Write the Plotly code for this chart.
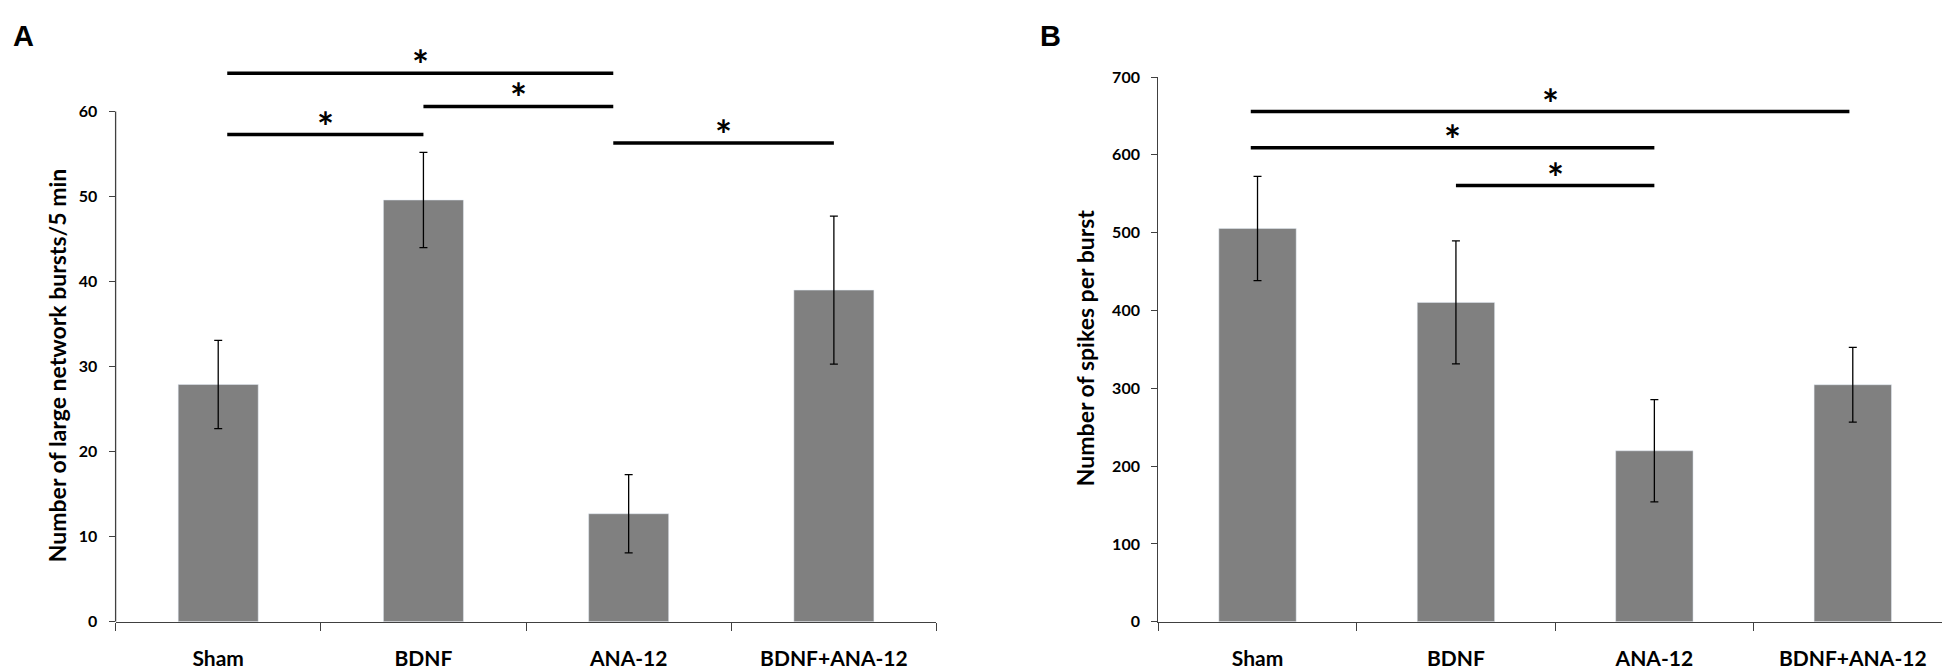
import plotly.graph_objects as go

# 데이터
groups = ["Sham", "BDNF", "ANA-12", "BDNF+ANA-12"]

bursts_mean = [27.9, 49.6, 12.7, 39.0]
bursts_err = [5.2, 5.6, 4.6, 8.7]

spikes_mean = [505.5, 410.4, 219.7, 304.6]
spikes_err = [67.0, 79.0, 65.7, 48.0]

# 유의성 표시: (시작 그룹, 끝 그룹, 높이)
bursts_sig = [(0, 1, 57.3), (0, 2, 64.5), (1, 2, 60.6), (2, 3, 56.3)]
spikes_sig = [(0, 3, 655.7), (0, 2, 609.2), (1, 2, 560.6)]

A_TITLE = "Number of large network bursts/5 min"
B_TITLE = "Number of spikes per burst"

BAR_COLOR = "#808080"
AXIS_COLOR = "#404040"
FONT = "Lato"

fig = go.Figure()

fig.add_trace(go.Bar(
    x=groups, y=bursts_mean, width=0.39, marker_color=BAR_COLOR,
    error_y=dict(type="data", array=bursts_err, color="black", thickness=1.3, width=4),
    xaxis="x", yaxis="y", showlegend=False,
))
fig.add_trace(go.Bar(
    x=groups, y=spikes_mean, width=0.39, marker_color=BAR_COLOR,
    error_y=dict(type="data", array=spikes_err, color="black", thickness=1.3, width=4),
    xaxis="x2", yaxis="y2", showlegend=False,
))

tick_font = dict(family=FONT, size=16, color="black", weight="bold")
cat_font = dict(family=FONT, size=21, color="black", weight="bold")

xcommon = dict(
    type="category", range=[-0.5, 3.5], showline=True, linecolor=AXIS_COLOR, linewidth=1.3,
    tickson="boundaries", ticks="outside", ticklen=8, tickcolor=AXIS_COLOR, tickwidth=1.3,
    tickfont=cat_font, ticklabelstandoff=18, showgrid=False, zeroline=False, fixedrange=True,
)

fig.update_layout(
    width=1950, height=671,
    margin=dict(l=0, r=0, t=0, b=0),
    paper_bgcolor="white", plot_bgcolor="white",
    xaxis=dict(xcommon, domain=[0.05518, 0.47615], anchor="y"),
    yaxis=dict(
        domain=[0.07407, 0.9608], range=[0, 68], anchor="x",
        tickvals=[0, 10, 20, 30, 40, 50, 60], ticks="outside", ticklen=6,
        tickcolor=AXIS_COLOR, tickwidth=1.3, tickfont=tick_font, ticklabelstandoff=8,
        showline=False, showgrid=False, zeroline=False,
    ),
    xaxis2=dict(xcommon, domain=[0.5899, 0.99692], anchor="y2"),
    yaxis2=dict(
        domain=[0.07407, 0.90939], range=[0, 700], anchor="x2",
        tickvals=[0, 100, 200, 300, 400, 500, 600, 700], ticks="outside", ticklen=6,
        tickcolor=AXIS_COLOR, tickwidth=1.3, tickfont=tick_font, ticklabelstandoff=8,
        showline=True, linecolor=AXIS_COLOR, linewidth=1.3, showgrid=False, zeroline=False,
    ),
)

# A 패널 y축 선 (0~60 까지만)
fig.add_shape(type="line", xref="x domain", yref="y", x0=0, x1=0, y0=0, y1=60,
              line=dict(color=AXIS_COLOR, width=1.3))

# 유의성 막대와 별표
def add_sig(pairs, xref, yref, offsets):
    for a, b, level in pairs:
        x0 = a + offsets.get(a, 0)
        x1 = b + offsets.get(b, 0)
        fig.add_shape(type="line", xref=xref, yref=yref, x0=x0, x1=x1, y0=level, y1=level,
                      line=dict(color="black", width=3.5))
        fig.add_annotation(x=(x0 + x1) / 2, y=level, xref=xref, yref=yref, text="*",
                           showarrow=False, yanchor="bottom", yshift=-18,
                           font=dict(family=FONT, size=40, color="black", weight="bold"))

add_sig(bursts_sig, "x", "y", {0: 0.044, 2: -0.075})
add_sig(spikes_sig, "x2", "y2", {0: -0.034, 3: -0.017})

# y축 제목
fig.add_annotation(x=0.02513, y=0.466, xref="paper", yref="paper", text=A_TITLE,
                   textangle=-90, showarrow=False, xanchor="center", yanchor="middle",
                   font=dict(family=FONT, size=23, color="black", weight="bold"))
fig.add_annotation(x=0.5521, y=0.493, xref="paper", yref="paper", text=B_TITLE,
                   textangle=-90, showarrow=False, xanchor="center", yanchor="middle",
                   font=dict(family=FONT, size=23, color="black", weight="bold"))

# 패널 문자
for label, px_x in [("A", 0.0077), ("B", 0.5347)]:
    fig.add_annotation(x=px_x, y=0.973, xref="paper", yref="paper", text=label,
                       showarrow=False, xanchor="center", yanchor="middle",
                       font=dict(family="Liberation Sans", size=29, color="black", weight="bold"))

fig.write_html("out.html")
